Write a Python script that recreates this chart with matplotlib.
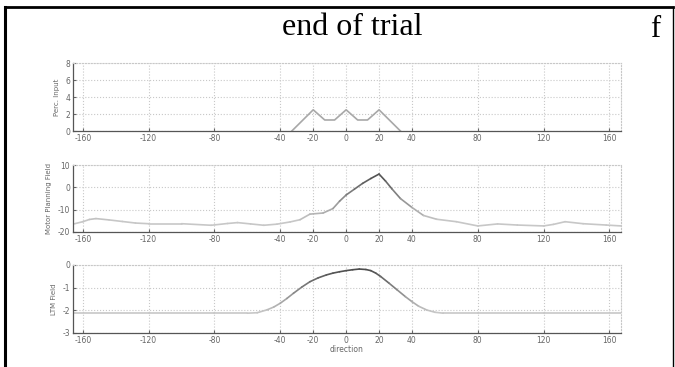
import matplotlib.pyplot as plt
import numpy as np
from matplotlib.collections import LineCollection

plt.rcParams['axes.unicode_minus'] = False

# perceptual input: three triangular bumps
perc_x = [-33, -20, -13, -7, 0, 7, 13, 20, 33]
perc_y = [0, 2.5, 1.3, 1.3, 2.5, 1.3, 1.3, 2.5, 0]

# motor planning field
motor_x = [-166, -160, -156, -152, -144, -136, -128, -120, -100, -82, -72, -66, -58, -50,
           -42, -34, -28, -22, -14, -8, -4, 0, 5, 10, 15, 20, 24, 28, 33, 40, 47, 55, 67,
           80, 92, 104, 120, 126, 133, 144, 158, 167]
motor_y = [-16.5, -15.4, -14.4, -14, -14.6, -15.3, -16, -16.3, -16.3, -17, -16.2, -15.8,
           -16.4, -17, -16.5, -15.5, -14.5, -12, -11.5, -9.5, -6.2, -3.4, -0.8, 1.8, 4.0,
           6.0, 2.8, -0.8, -5.0, -9, -12.6, -14.3, -15.4, -17.3, -16.4, -16.9, -17.3,
           -16.6, -15.4, -16.3, -16.9, -17.3]

# LTM field
ltm_x = [-166, -120, -80, -60, -54, -48, -44, -40, -36, -32, -27, -22, -17, -12, -8, -4,
         0, 4, 8, 12, 15, 18, 21, 26, 31, 36, 40, 44, 49, 54, 59, 80, 120, 167]
ltm_y = [-2.13, -2.13, -2.13, -2.13, -2.11, -1.98, -1.86, -1.69, -1.48, -1.25, -0.98,
         -0.74, -0.57, -0.44, -0.36, -0.3, -0.25, -0.21, -0.18, -0.2, -0.25, -0.36,
         -0.51, -0.8, -1.1, -1.4, -1.62, -1.82, -1.99, -2.09, -2.13, -2.13, -2.13, -2.13]

xticks = [-160, -120, -80, -40, -20, 0, 20, 40, 80, 120, 160]

fig = plt.figure(figsize=(6.75, 3.67), dpi=100)

# frame around the figure
fig.add_artist(plt.Line2D([0.0067, 0.0067], [0, 0.981], color='black', lw=2.2))
fig.add_artist(plt.Line2D([0.0067, 0.997], [0.981, 0.981], color='black', lw=2.0))
fig.add_artist(plt.Line2D([0.997, 0.997], [0, 0.981], color='black', lw=1.0))

fig.text(0.522, 0.925, 'end of trial', fontsize=23, family='Liberation Serif',
         ha='center', va='center')
fig.text(0.97, 0.92, 'f', fontsize=22, family='Liberation Serif',
         ha='center', va='center')


def shaded_line(ax, x, y, lo, hi, light=0.78, dark=0.3, lw=1.2):
    # gray level follows the height of the curve
    x = np.asarray(x, float)
    y = np.asarray(y, float)
    pts = np.column_stack([x, y]).reshape(-1, 1, 2)
    segs = np.concatenate([pts[:-1], pts[1:]], axis=1)
    mid = (y[:-1] + y[1:]) / 2
    t = np.clip((mid - lo) / (hi - lo), 0, 1)
    g = light - (light - dark) * t
    lc = LineCollection(segs, colors=[(v, v, v) for v in g], linewidths=lw,
                        capstyle='round', joinstyle='round')
    ax.add_collection(lc)


def style(ax, ylim, yticks, ylabel):
    ax.set_xlim(-166, 167)
    ax.set_ylim(*ylim)
    ax.set_xticks(xticks)
    ax.set_yticks(yticks)
    ax.grid(True, color='#c8c8c8', linestyle=':', linewidth=0.8)
    ax.tick_params(labelsize=5.5, colors='#666666', length=2, direction='in', pad=2)
    for s in ['top', 'right']:
        ax.spines[s].set_linestyle(':')
        ax.spines[s].set_color('#c8c8c8')
    for s in ['left', 'bottom']:
        ax.spines[s].set_color('#555555')
        ax.spines[s].set_linewidth(0.9)
    ax.set_ylabel(ylabel, fontsize=5, color='#666666', labelpad=4)


ax1 = fig.add_axes([0.108, 0.643, 0.812, 0.185])
ax1.plot(perc_x, perc_y, color='#a8a8a8', lw=1.2)
style(ax1, (0, 8), [0, 2, 4, 6, 8], 'Perc. Input')

ax2 = fig.add_axes([0.108, 0.368, 0.812, 0.182])
shaded_line(ax2, motor_x, motor_y, -15, 6)
style(ax2, (-20, 10), [-20, -10, 0, 10], 'Motor Planning Field')

ax3 = fig.add_axes([0.108, 0.093, 0.812, 0.185])
shaded_line(ax3, ltm_x, ltm_y, -2.1, -0.2)
style(ax3, (-3, 0), [-3, -2, -1, 0], 'LTM Field')
ax3.set_xlabel('direction', fontsize=5.5, color='#666666', labelpad=0)

fig.savefig('out.png', dpi=100)
